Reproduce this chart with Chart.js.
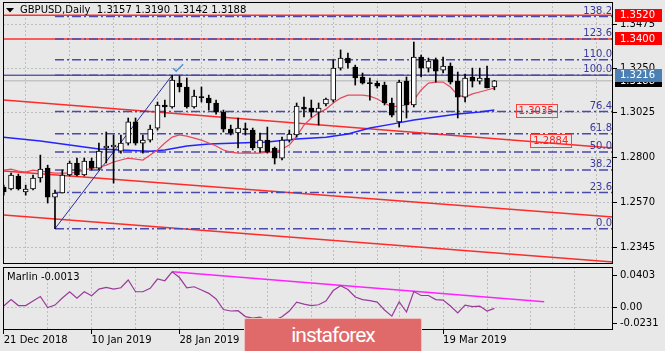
<!DOCTYPE html>
<html>
<head>
<meta charset="utf-8">
<script src="https://cdn.jsdelivr.net/npm/chart.js@4.4.0/dist/chart.umd.min.js"></script>
<style>
  html, body { margin: 0; padding: 0; background: #e8e8e8; }
  #wrap { position: relative; width: 665px; height: 351px; overflow: hidden; background: #e8e8e8; }
  #main { position: absolute; left: 0; top: 0; }
  #osc { position: absolute; left: 0; top: 264px; }
  #logo {
    position: absolute; left: 244px; top: 318px; width: 176px; height: 36px;
    background: #e06a6a; border: 1px solid #f3c0c0; border-radius: 2px;
    color: #fff; font: 21px Roboto, sans-serif; letter-spacing: -1px;
    text-align: center; line-height: 32px;
  }
</style>
</head>
<body>
<div id="wrap">
  <canvas id="main" width="665" height="266"></canvas>
  <canvas id="osc" width="665" height="87"></canvas>
  <div id="logo">instaforex</div>
</div>
<script>
// GBPUSD daily candles, 21 Dec 2018 .. end of March 2019
const opens = [1.2649,1.2639,1.2705,1.2624,1.2639,1.2695,1.2745,1.2598,1.2619,1.2710,
               1.2771,1.2710,1.2781,1.2745,1.2847,1.2852,1.2831,1.2872,1.2979,1.2872,
               1.2887,1.2948,1.3065,1.3055,1.3176,1.3156,1.3055,1.3105,1.3100,1.3075,
               1.3029,1.2943,1.2923,1.2943,1.2938,1.2847,1.2887,1.2847,1.2796,1.2887,
               1.2913,1.3055,1.3049,1.3029,1.3070,1.3090,1.3252,1.3303,1.3257,1.3207,
               1.3176,1.3176,1.3166,1.3075,1.2979,1.3186,1.3065,1.3308,1.3252,1.3293,
               1.3242,1.3262,1.3186,1.3105,1.3207,1.3186,1.3202,1.3157];
const highs = [1.2659,1.2720,1.2715,1.2659,1.2710,1.2811,1.2760,1.2634,1.2735,1.2781,
               1.2796,1.2796,1.2796,1.2872,1.2928,1.2913,1.2913,1.2999,1.2999,1.2913,
               1.2963,1.3080,1.3090,1.3216,1.3212,1.3202,1.3141,1.3156,1.3115,1.3090,
               1.3039,1.2963,1.2999,1.2973,1.2948,1.2923,1.2953,1.2852,1.2902,1.2938,
               1.3075,1.3105,1.3090,1.3075,1.3100,1.3293,1.3344,1.3328,1.3267,1.3227,
               1.3202,1.3186,1.3181,1.3100,1.3191,1.3207,1.3384,1.3318,1.3303,1.3303,
               1.3308,1.3278,1.3232,1.3222,1.3252,1.3252,1.3262,1.3190];
const lows = [1.2608,1.2634,1.2634,1.2608,1.2634,1.2674,1.2568,1.2438,1.2619,1.2705,
              1.2705,1.2705,1.2735,1.2735,1.2771,1.2669,1.2821,1.2862,1.2862,1.2821,
              1.2877,1.2938,1.3004,1.3049,1.3131,1.3049,1.3049,1.3080,1.3039,1.3019,
              1.2928,1.2913,1.2847,1.2913,1.2837,1.2826,1.2821,1.2766,1.2786,1.2877,
              1.2902,1.3004,1.3004,1.2963,1.3060,1.3080,1.3242,1.3252,1.3166,1.3171,
              1.3090,1.3151,1.3065,1.3004,1.2953,1.2999,1.3055,1.3207,1.3232,1.3181,
              1.3227,1.3171,1.2999,1.3080,1.3156,1.3171,1.3151,1.3142];
const closes = [1.2624,1.2710,1.2639,1.2639,1.2695,1.2740,1.2598,1.2619,1.2710,1.2771,
                1.2710,1.2781,1.2745,1.2831,1.2857,1.2862,1.2872,1.2979,1.2872,1.2887,
                1.2943,1.3065,1.3055,1.3191,1.3156,1.3055,1.3110,1.3102,1.3075,1.3029,
                1.2943,1.2923,1.2948,1.2940,1.2847,1.2887,1.2826,1.2796,1.2887,1.2918,
                1.3060,1.3044,1.3029,1.3049,1.3095,1.3252,1.3303,1.3278,1.3202,1.3176,
                1.3173,1.3161,1.3075,1.3014,1.3181,1.3065,1.3308,1.3252,1.3288,1.3237,
                1.3262,1.3181,1.3105,1.3202,1.3186,1.3202,1.3151,1.3188];

// fast moving average (pink)
const fastMA = [1.2735,1.2740,1.2730,1.2725,1.2735,1.2730,1.2725,1.2720,1.2720,1.2720,
                1.2725,1.2735,1.2745,1.2750,1.2760,1.2776,1.2786,1.2796,1.2791,1.2786,
                1.2811,1.2837,1.2872,1.2902,1.2913,1.2907,1.2897,1.2887,1.2872,1.2857,
                1.2837,1.2826,1.2821,1.2821,1.2821,1.2821,1.2826,1.2826,1.2842,1.2862,
                1.2907,1.2963,1.2999,1.3024,1.3044,1.3075,1.3100,1.3115,1.3115,1.3115,
                1.3110,1.3095,1.3075,1.3055,1.3060,1.3065,1.3090,1.3141,1.3176,1.3181,
                1.3181,1.3156,1.3115,1.3105,1.3121,1.3131,1.3141,1.3151];
// slow moving average (blue), read at these bars
const slowBars = [0,5,10,13,16,20,22,25,28,32,36,40,44,47,50,53,56,59,62,65,67];
const slowMA = [1.2902,1.2882,1.2857,1.2842,1.2837,1.2831,1.2837,1.2857,1.2867,1.2872,1.2877,
                1.2892,1.2902,1.2918,1.2948,1.2968,1.2989,1.3004,1.3019,1.3029,1.3039];

// Marlin oscillator
const marlin = [0.0010,0.0075,0.0015,0.0015,0.0060,0.0106,-0.0005,0.0020,0.0091,0.0154,
                0.0088,0.0154,0.0114,0.0181,0.0198,0.0181,0.0194,0.0272,0.0154,0.0154,
                0.0188,0.0282,0.0265,0.0355,0.0297,0.0194,0.0204,0.0171,0.0138,0.0081,
                -0.0025,-0.0040,-0.0037,-0.0096,-0.0111,-0.0101,-0.0141,-0.0131,-0.0098,-0.0040,
                0.0050,0.0030,0.0015,0.0023,0.0060,0.0166,0.0214,0.0176,0.0101,0.0075,
                0.0065,0.0050,-0.0030,-0.0091,0.0053,-0.0050,0.0156,0.0116,0.0116,0.0075,
                0.0070,0.0010,-0.0060,0.0020,0.0005,0.0010,-0.0040,-0.0013];
const marlinTrendBars = [23, 73.8];
const marlinTrend = [0.0355, 0.0053];

// fibonacci grid (Jan 3 low -> Jan 25 high)
const fibLevels = [0, 23.6, 38.2, 50.0, 61.8, 76.4, 100.0, 110.0, 123.6, 138.2];
const fibLow = 1.2438, fibHigh = 1.3216;
const fibLowBar = 7, fibHighBar = 23;

// drawn objects
const redLevels = [1.3520, 1.3400];
const channelBars = [0, 83.3];
const channelUpper = [1.3090, 1.2847];
const channelMiddle = [1.2730, 1.2497];
const channelLower = [1.2507, 1.2269];
const noteValues = [1.3035, 1.2884];

// axes
const priceTicks = [1.2345, 1.2570, 1.2800, 1.3025, 1.3250, 1.3475];
const Y_MIN = 1.2259, Y_MAX = 1.3587;
const OSC_MIN = -0.0231, OSC_MAX = 0.0403;
const dateBars = [0, 12, 24, 60];
const dateLabels = ['21 Dec 2018', '10 Jan 2019', '28 Jan 2019', '19 Mar 2019'];

const X_MIN = -0.1, X_MAX = 83.2;
const FONT = '"DejaVu Sans", sans-serif';
const GRID = '#bdbdbd';
Chart.defaults.font.family = FONT;
Chart.defaults.font.size = 10;

const N = opens.length;
const bars = opens.map((_, i) => i);
const gridBars = [];
for (let i = 0; i <= 78; i += 6) gridBars.push(i);

const lineDs = (data, color, width, extra) => Object.assign({
  type: 'line', data, borderColor: color, borderWidth: width,
  pointRadius: 0, fill: false, tension: 0
}, extra || {});
const fibPrice = l => fibLow + (fibHigh - fibLow) * l / 100;
const pair = (xs, ys) => xs.map((x, i) => ({x, y: ys[i]}));
// keep the plot box where the picture has it: no extra room for tick labels
const noPad = s => { s.paddingTop = 0; s.paddingBottom = 0; s.paddingLeft = 0; s.paddingRight = 0; };

const datasets = [
  // candle bodies and wicks
  { type: 'bar', data: bars.map(i => ({x: i, y: [opens[i], closes[i]]})),
    backgroundColor: bars.map(i => closes[i] >= opens[i] ? '#ffffff' : '#000000'),
    borderColor: '#000', borderWidth: 1, borderSkipped: false,
    barThickness: 5, minBarLength: 1, grouped: false, order: 0 },
  { type: 'bar', data: bars.map(i => ({x: i, y: [lows[i], highs[i]]})),
    backgroundColor: '#000', barThickness: 1, grouped: false, order: 1 },
  lineDs(bars.map(i => ({x: i, y: fastMA[i]})), '#e8485e', 1.2, {order: 2}),
  lineDs(pair(slowBars, slowMA), '#2424ff', 1.5, {order: 3}),
  lineDs([{x: fibLowBar, y: fibLow}, {x: fibHighBar, y: fibHigh}], '#2a2aa0', 1, {order: 4}),
  ...fibLevels.map(l => lineDs([{x: fibLowBar, y: fibPrice(l)}, {x: X_MAX, y: fibPrice(l)}],
    '#4a4aaa', 1.5, {borderDash: [9, 3, 2, 3], order: 5})),
  lineDs([{x: X_MIN, y: fibHigh}, {x: X_MAX, y: fibHigh}], '#1e1e86', 1, {order: 6}),
  lineDs(pair(channelBars, channelUpper), '#ff2a2a', 1.5, {order: 7}),
  lineDs(pair(channelBars, channelMiddle), '#ff2a2a', 1.5, {order: 7}),
  lineDs(pair(channelBars, channelLower), '#ff2a2a', 1.5, {order: 7}),
  ...redLevels.map(v => lineDs([{x: X_MIN, y: v}, {x: X_MAX, y: v}], '#ff3030', 1.5, {order: 8})),
  lineDs([{x: X_MIN, y: closes[N - 1]}, {x: X_MAX, y: closes[N - 1]}], '#c4c4c4', 1.5, {order: 9})
];

const mainDecor = {
  id: 'mainDecor',
  afterDraw(chart) {
    const {ctx, chartArea: a, scales: {x, y}} = chart;
    ctx.save();
    ctx.strokeStyle = '#000';
    ctx.lineWidth = 1;
    ctx.strokeRect(a.left + 0.5, a.top + 0.5, a.right - a.left - 1, a.bottom - a.top - 1);

    ctx.font = '10px ' + FONT;
    // fibonacci level captions
    ctx.fillStyle = '#3a3a9c';
    ctx.textAlign = 'right';
    ctx.textBaseline = 'bottom';
    fibLevels.forEach(l => ctx.fillText(l.toFixed(1), a.right - 1, y.getPixelForValue(fibPrice(l)) - 0.5));

    // boxed price notes on the chart
    const noteBars = [72.7, 74.7];
    ctx.textAlign = 'center';
    ctx.textBaseline = 'middle';
    noteValues.forEach((v, i) => {
      const cx = x.getPixelForValue(noteBars[i]);
      const cy = y.getPixelForValue(v);
      const t = v.toFixed(4);
      const w = ctx.measureText(t).width + 6;
      ctx.strokeStyle = '#ff4040';
      ctx.strokeRect(Math.round(cx - w / 2) + 0.5, Math.round(cy - 6.5) + 0.5, Math.round(w), 13);
      ctx.fillStyle = '#ff2020';
      ctx.fillText(t, cx, cy + 0.5);
    });

    // price tags on the right axis
    const tags = [
      {v: closes[N - 1], bg: '#000000'},
      {v: redLevels[0], bg: '#ff0000'},
      {v: redLevels[1], bg: '#ff0000'},
      {v: fibHigh, bg: '#4a80b4'}
    ];
    ctx.textAlign = 'left';
    tags.forEach(t => {
      const py = y.getPixelForValue(t.v);
      ctx.fillStyle = t.bg;
      ctx.fillRect(a.right + 2, Math.round(py - 6.5), 47, 13);
      ctx.fillStyle = '#fff';
      ctx.fillText(t.v.toFixed(4), a.right + 7, py + 0.5);
    });

    // check mark at the fibonacci anchor
    ctx.strokeStyle = '#4a94d4';
    ctx.lineWidth = 1.5;
    const cx = x.getPixelForValue(fibHighBar), cy = y.getPixelForValue(fibHigh);
    ctx.beginPath();
    ctx.moveTo(cx + 1, cy - 7);
    ctx.lineTo(cx + 4, cy - 4);
    ctx.lineTo(cx + 11, cy - 11);
    ctx.stroke();

    // header
    ctx.fillStyle = '#000';
    ctx.beginPath();
    ctx.moveTo(6, 8); ctx.lineTo(14, 8); ctx.lineTo(10, 12.5); ctx.closePath();
    ctx.fill();
    ctx.font = '10px ' + FONT;
    ctx.textAlign = 'left';
    const last = [opens, highs, lows, closes].map(s => s[N - 1].toFixed(4)).join(' ');
    ctx.fillText('GBPUSD,Daily  ' + last, 20, 10.5);
    ctx.restore();
  }
};

new Chart(document.getElementById('main'), {
  type: 'line',
  data: {datasets},
  options: {
    responsive: false, animation: false, devicePixelRatio: 1, events: [],
    layout: {padding: {left: 3, top: 2, right: 0, bottom: 2}},
    plugins: {legend: {display: false}, tooltip: {enabled: false}},
    scales: {
      x: {
        type: 'linear', min: X_MIN, max: X_MAX, offset: false,
        afterBuildTicks: s => { s.ticks = gridBars.map(v => ({value: v})); },
        afterFit: s => { s.height = 0; noPad(s); },
        ticks: {display: false},
        grid: {color: GRID, drawTicks: false},
        border: {display: false, dash: [2, 2]}
      },
      y: {
        type: 'linear', position: 'right', min: Y_MIN, max: Y_MAX,
        afterBuildTicks: s => { s.ticks = priceTicks.map(v => ({value: v})); },
        afterFit: s => { s.width = 52; noPad(s); },
        ticks: {callback: v => v.toFixed(4), color: '#000', padding: 3, font: {size: 10}},
        grid: {color: GRID, tickColor: '#000', tickLength: 4},
        border: {display: false, dash: [2, 2]}
      }
    }
  },
  plugins: [mainDecor]
});

const oscDecor = {
  id: 'oscDecor',
  afterDraw(chart) {
    const {ctx, chartArea: a, scales: {y}} = chart;
    ctx.save();
    ctx.strokeStyle = '#000';
    ctx.lineWidth = 1;
    ctx.strokeRect(a.left + 0.5, a.top + 0.5, a.right - a.left - 1, a.bottom - a.top - 1);
    ctx.font = '10px ' + FONT;
    ctx.fillStyle = '#000';
    ctx.textAlign = 'left';
    ctx.textBaseline = 'middle';
    ctx.fillText('Marlin ' + marlin[N - 1].toFixed(4), a.left + 4, a.top + 10.5);
    const z = y.getPixelForValue(0);
    const marks = [
      {t: OSC_MAX.toFixed(4), py: a.top + 7.5},
      {t: '0.00', py: z},
      {t: OSC_MIN.toFixed(4), py: a.bottom - 7.5}
    ];
    marks.forEach(m => {
      ctx.beginPath();
      ctx.moveTo(a.right, Math.round(m.py) + 0.5);
      ctx.lineTo(a.right + 4, Math.round(m.py) + 0.5);
      ctx.stroke();
      ctx.fillText(m.t, a.right + 7, m.py + 0.5);
    });
    ctx.restore();
  }
};

new Chart(document.getElementById('osc'), {
  type: 'line',
  data: {
    datasets: [
      lineDs(bars.map(i => ({x: i, y: marlin[i]})), '#9a3a9a', 1.2, {order: 0}),
      lineDs(pair(marlinTrendBars, marlinTrend), '#ff22ff', 1.5, {order: 1})
    ]
  },
  options: {
    responsive: false, animation: false, devicePixelRatio: 1, events: [],
    layout: {padding: {left: 3, top: 3, right: 0, bottom: 0}},
    plugins: {legend: {display: false}, tooltip: {enabled: false}},
    scales: {
      x: {
        type: 'linear', min: X_MIN, max: X_MAX, offset: false,
        afterBuildTicks: s => { s.ticks = gridBars.map(v => ({value: v})); },
        afterFit: s => { s.height = 21; noPad(s); },
        ticks: {
          callback: v => { const k = dateBars.indexOf(v); return k >= 0 ? dateLabels[k] : ''; },
          autoSkip: false, maxRotation: 0, align: 'start', padding: 0, color: '#000', font: {size: 10}
        },
        grid: {
          color: GRID, tickLength: 4,
          tickColor: c => (c.tick && dateBars.includes(c.tick.value)) ? '#000' : 'rgba(0,0,0,0)'
        },
        border: {display: false, dash: [2, 2]}
      },
      y: {
        type: 'linear', position: 'right', min: OSC_MIN, max: OSC_MAX,
        afterBuildTicks: s => { s.ticks = [{value: 0}]; },
        afterFit: s => { s.width = 52; noPad(s); },
        ticks: {display: false},
        grid: {color: GRID, drawTicks: false},
        border: {display: false, dash: [2, 2]}
      }
    }
  },
  plugins: [oscDecor]
});
</script>
</body>
</html>
